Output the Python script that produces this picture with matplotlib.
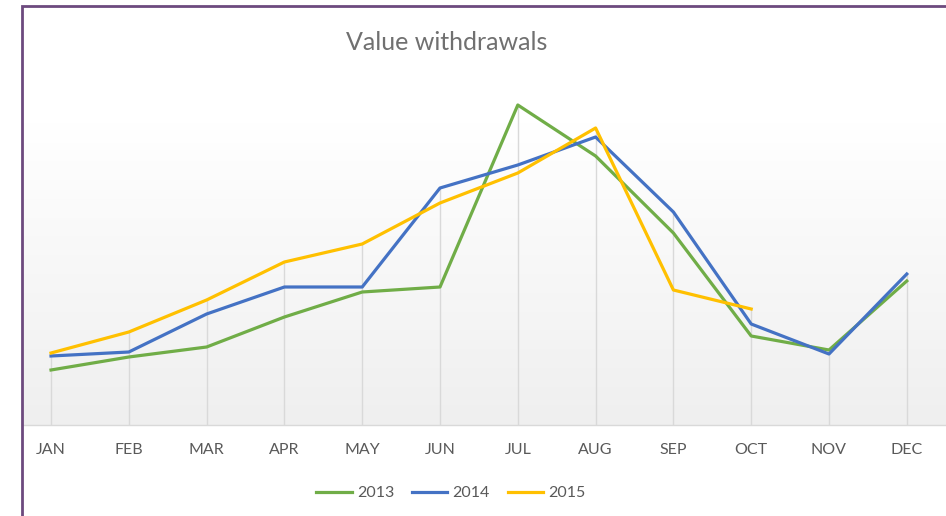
import numpy as np
import matplotlib.pyplot as plt
from matplotlib.patches import Rectangle
from matplotlib.colors import to_rgb

months = ['JAN', 'FEB', 'MAR', 'APR', 'MAY', 'JUN',
          'JUL', 'AUG', 'SEP', 'OCT', 'NOV', 'DEC']

# values (no value axis shown)
y2013 = [55, 68, 78, 108, 133, 138, 320, 269, 192, 89, 75, 144]
y2014 = [69, 73, 111, 138, 138, 237, 260, 288, 213, 101, 71, 151]
y2015 = [72, 93, 125, 163, 181, 222, 252, 297, 135, 116]

plt.rcParams['font.family'] = ['Lato', 'DejaVu Sans']

W, H = 946, 516
fig = plt.figure(figsize=(W / 100, H / 100), dpi=100)
ax = fig.add_axes([22 / W, (H - 425) / H, 1 - 22 / W, (425 - 6) / H])

x = np.arange(len(months))
xl = (-0.373, 11.504)
yl = (0, 419)

# background gradient: white at top, light gray at the axis
top = np.array(to_rgb('#ffffff'))
bot = np.array(to_rgb('#efefef'))
v = np.linspace(0, 1, 300)[:, None]
t = np.clip(v / 0.72, 0, 1)  # 0 at axis
grad = (bot * (1 - t) + top * t)[:, None, :]
ax.imshow(grad, extent=[xl[0], xl[1], yl[0], yl[1]], origin='lower',
          aspect='auto', zorder=0)

# drop lines from the highest point of each month
tops = []
for i in range(len(months)):
    vals = [y2013[i], y2014[i]]
    if i < len(y2015):
        vals.append(y2015[i])
    tops.append(max(vals))
ax.vlines(x, 0, tops, color='#d9d9d9', lw=1, zorder=1)

ax.plot(x, y2013, color='#70ad47', lw=2.3, label='2013', zorder=3)
ax.plot(x, y2014, color='#4472c4', lw=2.3, label='2014', zorder=3)
ax.plot(x[:len(y2015)], y2015, color='#ffc000', lw=2.3, label='2015', zorder=3)

ax.set_xlim(*xl)
ax.set_ylim(*yl)
ax.set_xticks(x)
ax.set_xticklabels(months, fontsize=11.5, color='#595959')
ax.tick_params(axis='x', length=0, pad=13)
ax.set_yticks([])
for s in ['top', 'right', 'left']:
    ax.spines[s].set_visible(False)
ax.spines['bottom'].set_color('#d9d9d9')
ax.spines['bottom'].set_linewidth(1)

fig.text(447 / W, 1 - 43 / H, 'Value withdrawals', ha='center', va='center',
         fontsize=18, color='#707070')

fig.legend(loc='center', bbox_to_anchor=(451 / W, 1 - 493 / H), ncol=3,
           frameon=False, fontsize=11.5, handlelength=2.2, handletextpad=0.35,
           columnspacing=1.1, labelcolor='#595959')

# purple chart frame
fig.patches.append(Rectangle((21.5 / W, -0.1), 1.2, (H - 6) / H + 0.1,
                             transform=fig.transFigure, fill=False,
                             edgecolor='#6d4a7e', lw=2, zorder=10))

fig.savefig('out.png', dpi=100, facecolor='white')
